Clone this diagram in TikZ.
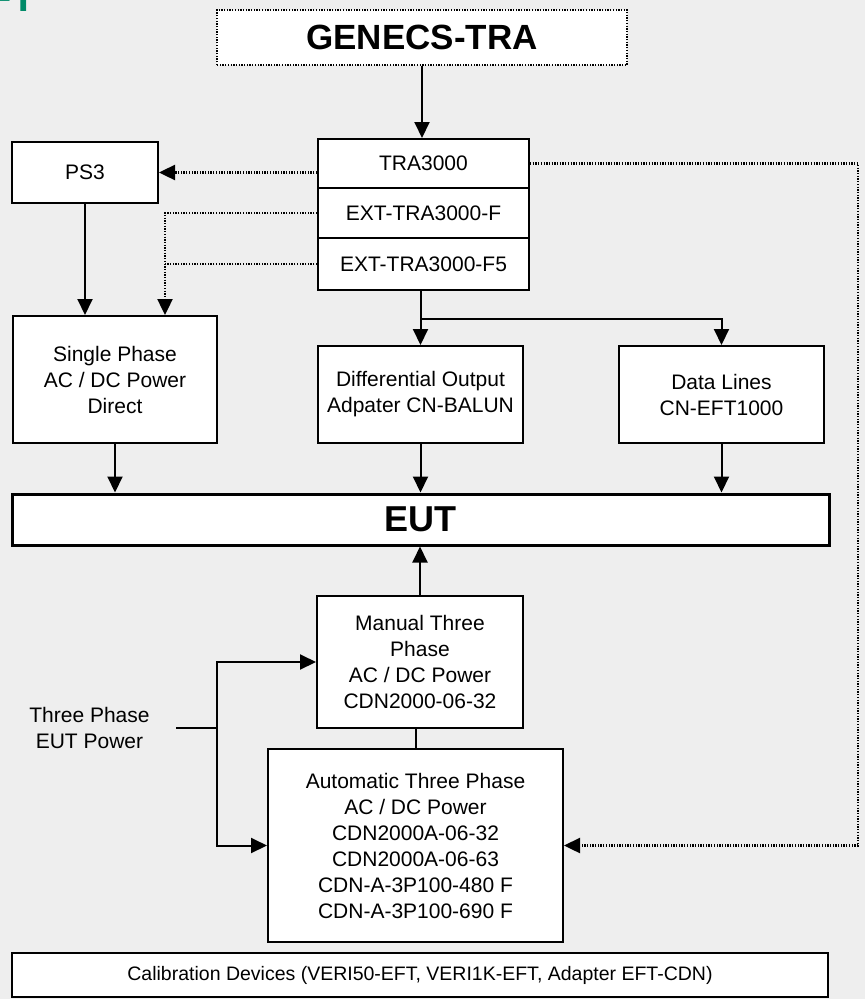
\documentclass[tikz,border=0pt]{standalone}
\usepackage{fontspec}
\setmainfont{Liberation Sans}
\usetikzlibrary{arrows.meta}
\definecolor{pageGray}{RGB}{238,238,238}
\definecolor{logoGreen}{RGB}{0,138,104}
\newcommand{\boxFont}[0]{\fontsize{21}{26}\selectfont}
\newcommand{\calFont}[0]{\fontsize{19.5}{23}\selectfont}
\newcommand{\headFont}[0]{\fontsize{35}{40}\selectfont\bfseries}

\begin{document}
\begin{tikzpicture}[x=1pt, y=-1pt, >={Triangle[length=16pt,width=15pt]}]
  \tikzset{unit/.style={draw, fill=white, line width=2pt, inner sep=0pt, align=center, font=\boxFont},
           link/.style={line width=2pt},
           dotlink/.style={line width=2.4pt, dash pattern=on 1.3pt off 1.4pt}}
  \useasboundingbox (0,0) rectangle (865,999);
  \fill[pageGray] (0,0) rectangle (865,999);
  \begin{scope}
    \clip (0,0) rectangle (865,999);
    \node[anchor=base west, inner sep=0pt, text=logoGreen, font=\fontsize{40}{40}\selectfont\bfseries] (logo) at (-13,11) {FT};
  \end{scope}
  % generator and its extensions
  \node[unit, dotlink, minimum width=410, minimum height=55, font=\headFont] (genecs) at (422,37.5) {GENECS-TRA};
  \node[unit, minimum width=211, minimum height=49] (tra) at (423.5,163.5) {TRA3000};
  \node[unit, minimum width=211, minimum height=50] (extf) at (423.5,213) {EXT-TRA3000-F};
  \node[unit, minimum width=211, minimum height=52] (extff) at (423.5,264) {EXT-TRA3000-F5};
  \node[unit, minimum width=146, minimum height=61] (ps3) at (85,172.5) {PS3};
  % coupling networks
  \node[unit, minimum width=204, minimum height=127] (single) at (115,379.5) {Single Phase\\AC / DC Power\\Direct};
  \node[unit, minimum width=205, minimum height=97] (diff) at (420.5,394.5) {Differential Output\\Adpater CN-BALUN};
  \node[unit, minimum width=205, minimum height=97] (data) at (721.5,394.5) {Data Lines\\CN-EFT1000};
  \node[unit, line width=3pt, minimum width=817, minimum height=51, font=\fontsize{36}{40}\selectfont\bfseries] (eut) at (420.5,519.5) {EUT};
  \node[unit, minimum width=206, minimum height=132] (manual) at (420,662) {Manual Three\\Phase\\AC / DC Power\\CDN2000-06-32};
  \node[unit, minimum width=295, minimum height=193] (auto) at (415.5,845.5) {Automatic Three Phase\\AC / DC Power\\CDN2000A-06-32\\CDN2000A-06-63\\CDN-A-3P100-480 F\\CDN-A-3P100-690 F};
  \node[unit, minimum width=816, minimum height=44, font=\calFont] (calib) at (420,975) {Calibration Devices (VERI50-EFT, VERI1K-EFT, Adapter EFT-CDN)};
  \node[align=center, inner sep=0pt, font=\boxFont] (mains) at (89.5,728) {Three Phase\\EUT Power};
  \coordinate (extBus) at (165,213);
  \coordinate (rightBus) at (858,163.5);
  \coordinate (feedIn) at (176,728);
  \coordinate (feedBus) at (217,728);
  \path (diff.north) ++(0,-26) coordinate (fork);
  % connectors
  \draw[link,->] (genecs.south) -- (genecs.south |- tra.north);
  \draw[dotlink,->] (ps3.east -| tra.west) -- (ps3.east);
  \draw[dotlink,->] (extf.west) -- (extBus) -- (extBus |- single.north);
  \draw[dotlink] (extff.west) -- (extff.west -| extBus);
  \draw[dotlink,->] (tra.east) -- (rightBus) |- (auto.east);
  \draw[link,->] (ps3.south) -- (ps3.south |- single.north);
  \draw[link,->] (diff.north |- extff.south) -- (diff.north);
  \draw[link,->] (fork) -| (data.north);
  \draw[link,->] (single.south) -- (single.south |- eut.north);
  \draw[link,->] (diff.south) -- (diff.south |- eut.north);
  \draw[link,->] (data.south) -- (data.south |- eut.north);
  \draw[link,->] (manual.north) -- (manual.north |- eut.south);
  \draw[link] (auto.north) -- (auto.north |- manual.south);
  \draw[link] (feedIn) -- (feedBus);
  \draw[link,->] (feedBus) |- (manual.west);
  \draw[link,->] (feedBus) |- (auto.west);
\end{tikzpicture}
\end{document}
